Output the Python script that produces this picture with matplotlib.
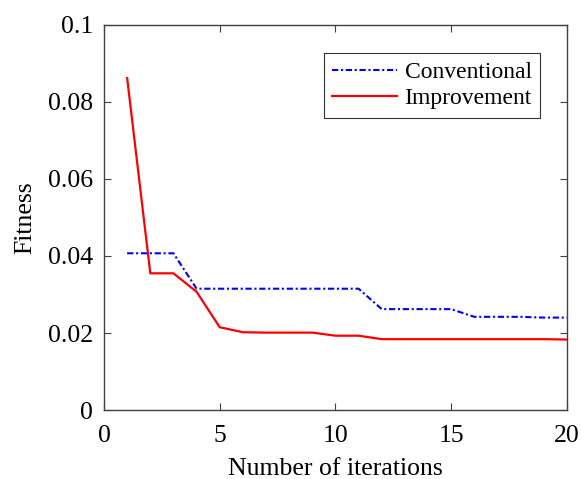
import matplotlib
matplotlib.use("Agg")
import matplotlib.pyplot as plt

iterations = list(range(1, 21))
conventional = [0.0407, 0.0407, 0.0407, 0.0315, 0.0315, 0.0315, 0.0315, 0.0315, 0.0315, 0.0315,
                0.0315, 0.0262, 0.0262, 0.0262, 0.0262, 0.0242, 0.0242, 0.0242, 0.0240, 0.0240]
improvement = [0.0862, 0.0355, 0.0355, 0.0307, 0.0215, 0.0202, 0.0201, 0.0201, 0.0201, 0.0193,
               0.0193, 0.0184, 0.0184, 0.0184, 0.0184, 0.0184, 0.0184, 0.0184, 0.0184, 0.0183]
xticks = [0, 5, 10, 15, 20]
yticks = [0, 0.02, 0.04, 0.06, 0.08, 0.1]
yticklabels = ["0", "0.02", "0.04", "0.06", "0.08", "0.1"]

plt.rcParams['font.family'] = ['Liberation Serif', 'DejaVu Serif']
plt.rcParams['font.size'] = 17

fig = plt.figure(figsize=(5.82, 4.79), dpi=100)
ax = fig.add_axes([0.1787, 0.144, 0.7953, 0.804])

ax.plot(iterations, conventional, color='blue', linestyle=(0, (3.0, 1.3, 1.0, 1.3)), linewidth=1.5, label='Conventional')
ax.plot(iterations, improvement, color='red', linestyle='-', linewidth=1.6, label='Improvement')

ax.set_xlim(0, 20)
ax.set_ylim(0, 0.1)
ax.set_xticks(xticks)
ax.set_yticks(yticks)
ax.set_yticklabels(yticklabels)
ax.tick_params(direction='in', top=True, right=True, length=5, width=0.8, color='#404040', labelsize=18.5)
ax.tick_params(axis='x', pad=11)
ax.tick_params(axis='y', pad=8)
for s in ax.spines.values():
    s.set_color('#404040')
    s.set_linewidth(1.0)

ax.set_xlabel('Number of iterations', fontsize=18.5, labelpad=8)
ax.set_ylabel('Fitness', fontsize=18.5, labelpad=8)

leg = ax.legend(loc='upper right', fontsize=17, frameon=True, fancybox=False, edgecolor='black',
                handlelength=2.75, handletextpad=0.3, borderpad=0.35, borderaxespad=0,
                labelspacing=0.2, bbox_to_anchor=(0.942, 0.926))
leg.get_frame().set_linewidth(0.8)

fig.savefig('out.png', dpi=100, facecolor='white')
